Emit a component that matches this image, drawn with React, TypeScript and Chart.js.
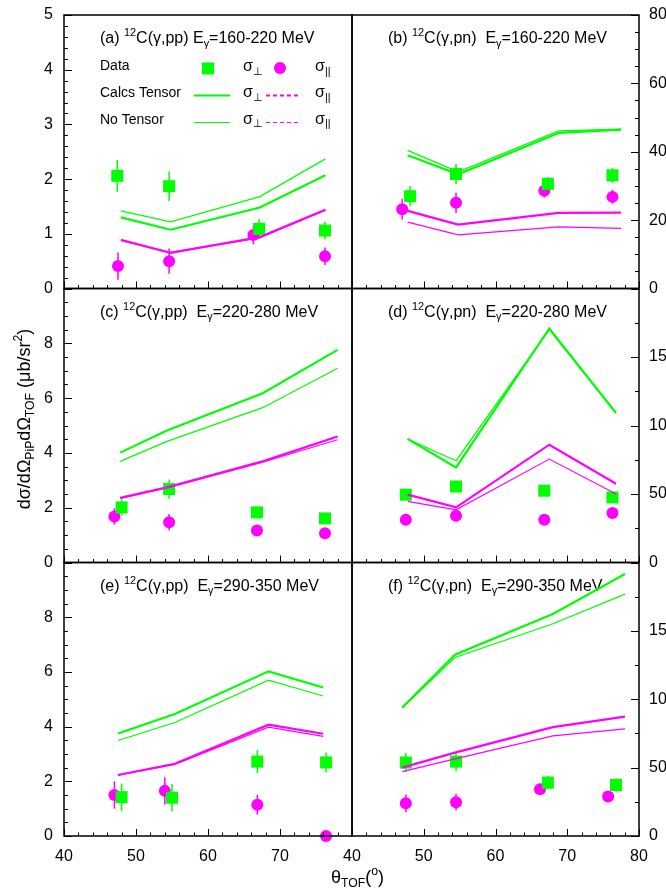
import React, { useEffect, useRef } from 'react';
import { Chart, registerables } from 'chart.js';

Chart.register(...registerables);

const W = 666;
const H = 893;
const GREEN = '#00ff00';
const MAGENTA = '#ff00ff';
const FONT = '"Liberation Sans", Arial, Helvetica, sans-serif';

// ---------- Tick definitions ----------
const xMajorTicks = [40, 50, 60, 70, 80];
const xLabelsLeft = [40, 50, 60, 70];
const xLabelsRight = [40, 50, 60, 70, 80];
const yLabelsA = [0, 1, 2, 3, 4, 5];
const yLabelsB = [0, 20, 40, 60, 80];
const yLabelsPP = [0, 2, 4, 6, 8];
const yLabelsPN = [0, 50, 100, 150];

// ---------- Panel (a) 12C(g,pp) 160-220 ----------
const aPerpX = [47.4, 54.6, 67.1, 76.25];
const aPerpY = [2.06, 1.87, 1.09, 1.06];
const aPerpErr = [0.29, 0.27, 0.18, 0.16];
const aParaX = [47.5, 54.6, 66.3, 76.25];
const aParaY = [0.41, 0.5, 0.98, 0.59];
const aParaErr = [0.25, 0.23, 0.17, 0.16];
const aCalcX = [47.9, 54.8, 67.2, 76.3];
const aTensorPerp = [1.3, 1.075, 1.48, 2.07];
const aTensorPara = [0.89, 0.65, 0.94, 1.44];
const aNoTensorPerp = [1.42, 1.22, 1.68, 2.37];
const aNoTensorPara = [0.88, 0.66, 0.93, 1.43];

// ---------- Panel (b) 12C(g,pn) 160-220 ----------
const bPerpX = [48.1, 54.5, 67.3, 76.3];
const bPerpY = [27.0, 33.5, 30.6, 33.1];
const bPerpErr = [3.0, 3.0, 2.0, 2.2];
const bParaX = [47.0, 54.5, 66.8, 76.3];
const bParaY = [23.2, 25.1, 28.6, 26.8];
const bParaErr = [3.0, 3.0, 2.0, 2.0];
const bCalcX = [47.75, 54.8, 68.8, 77.5];
const bTensorPerp = [39.0, 33.4, 45.5, 46.5];
const bTensorPara = [22.7, 18.7, 22.1, 22.2];
const bNoTensorPerp = [40.4, 34.1, 46.1, 46.6];
const bNoTensorPara = [19.4, 15.7, 18.0, 17.6];

// ---------- Panel (c) 12C(g,pp) 220-280 ----------
const cPerpX = [48.0, 54.6, 66.8, 76.25];
const cPerpY = [2.01, 2.68, 1.83, 1.61];
const cPerpErr = [0.3, 0.35, 0.15, 0.15];
const cParaX = [47.0, 54.6, 66.8, 76.25];
const cParaY = [1.68, 1.47, 1.17, 1.07];
const cParaErr = [0.3, 0.3, 0.15, 0.15];
const cCalcX = [47.8, 54.3, 67.6, 78.0];
const cTensorPerp = [4.01, 4.82, 6.18, 7.76];
const cTensorPara = [2.36, 2.74, 3.69, 4.6];
const cNoTensorPerp = [3.69, 4.42, 5.65, 7.09];
const cNoTensorPara = [2.34, 2.72, 3.66, 4.48];

// ---------- Panel (d) 12C(g,pn) 220-280 ----------
const dPerpX = [47.5, 54.5, 66.8, 76.3];
const dPerpY = [49.5, 55.5, 52.4, 47.5];
const dPerpErr = [3, 3, 3, 3];
const dParaX = [47.5, 54.5, 66.8, 76.3];
const dParaY = [31.2, 34.1, 31.2, 36.1];
const dParaErr = [2, 2, 2, 2];
const dCalcX = [47.75, 54.5, 67.5, 76.8];
const dTensorPerp = [90.2, 69.4, 170.8, 109.2];
const dTensorPara = [49.5, 40.2, 86.0, 57.5];
const dNoTensorPerp = [90.2, 74.3, 170.0, 108.7];
const dNoTensorPara = [44.6, 38.5, 75.5, 50.0];

// ---------- Panel (e) 12C(g,pp) 290-350 ----------
const ePerpX = [48.0, 55.0, 66.85, 76.4];
const ePerpY = [1.42, 1.4, 2.72, 2.69];
const ePerpErr = [0.5, 0.5, 0.42, 0.36];
const eParaX = [47.0, 54.0, 66.85, 76.4];
const eParaY = [1.5, 1.65, 1.14, 0.0];
const eParaErr = [0.5, 0.5, 0.36, 0.0];
const eCalcX = [47.5, 55.4, 68.4, 76.0];
const eTensorPerp = [3.75, 4.46, 6.02, 5.43];
const eTensorPara = [2.23, 2.64, 4.07, 3.74];
const eNoTensorPerp = [3.49, 4.15, 5.7, 5.12];
const eNoTensorPara = [2.22, 2.62, 3.98, 3.64];

// ---------- Panel (f) 12C(g,pn) 290-350 ----------
const fPerpX = [47.5, 54.5, 67.3, 76.8];
const fPerpY = [53.7, 54.4, 39.0, 37.3];
const fPerpErr = [7, 7, 5, 5];
const fParaX = [47.5, 54.5, 66.2, 75.7];
const fParaY = [23.9, 24.7, 34.2, 28.8];
const fParaErr = [6.5, 6, 4, 3.5];
const fCalcX = [47.0, 54.35, 68.0, 78.05];
const fTensorPerp = [93.9, 132.5, 162.3, 191.6];
const fTensorPara = [50.0, 61.0, 79.6, 87.3];
const fNoTensorPerp = [93.5, 130.5, 155.2, 176.9];
const fNoTensorPara = [47.1, 56.4, 73.2, 78.3];

type Part = { t: string; k?: 'sup' | 'sub' };

const titleA: Part[] = [{ t: '(a) ' }, { t: '12', k: 'sup' }, { t: 'C(γ,pp) E' }, { t: 'γ', k: 'sub' }, { t: '=160-220 MeV' }];
const titleB: Part[] = [{ t: '(b) ' }, { t: '12', k: 'sup' }, { t: 'C(γ,pn)  E' }, { t: 'γ', k: 'sub' }, { t: '=160-220 MeV' }];
const titleC: Part[] = [{ t: '(c) ' }, { t: '12', k: 'sup' }, { t: 'C(γ,pp)  E' }, { t: 'γ', k: 'sub' }, { t: '=220-280 MeV' }];
const titleD: Part[] = [{ t: '(d) ' }, { t: '12', k: 'sup' }, { t: 'C(γ,pn)  E' }, { t: 'γ', k: 'sub' }, { t: '=220-280 MeV' }];
const titleE: Part[] = [{ t: '(e) ' }, { t: '12', k: 'sup' }, { t: 'C(γ,pp)  E' }, { t: 'γ', k: 'sub' }, { t: '=290-350 MeV' }];
const titleF: Part[] = [{ t: '(f) ' }, { t: '12', k: 'sup' }, { t: 'C(γ,pn)  E' }, { t: 'γ', k: 'sub' }, { t: '=290-350 MeV' }];

const yTitle: Part[] = [
  { t: 'dσ/dΩ' }, { t: 'PiP', k: 'sub' }, { t: 'dΩ' }, { t: 'TOF', k: 'sub' }, { t: ' (μb/sr' }, { t: '2', k: 'sup' }, { t: ')' },
];
const xTitle: Part[] = [{ t: 'θ' }, { t: 'TOF', k: 'sub' }, { t: '(' }, { t: 'o', k: 'sup' }, { t: ')' }];

const colX = [
  [64, 352],
  [352, 639],
];
const rowY = [
  [15, 288.5],
  [288.5, 562.5],
  [562.5, 836],
];

interface Panel {
  col: number;
  row: number;
  yMax: number;
  yMajor: number;
  yMinor: number;
  yLabels: number[];
  xLabels: number[];
  title: Part[];
  perpX: number[]; perpY: number[]; perpErr: number[];
  paraX: number[]; paraY: number[]; paraErr: number[];
  calcX: number[];
  tPerp: number[]; tPara: number[]; nPerp: number[]; nPara: number[];
  legend?: boolean;
  axisTitles?: boolean;
}

const panels: Panel[] = [
  { col: 0, row: 0, yMax: 5, yMajor: 1, yMinor: 0.2, yLabels: yLabelsA, xLabels: xLabelsLeft, title: titleA,
    perpX: aPerpX, perpY: aPerpY, perpErr: aPerpErr, paraX: aParaX, paraY: aParaY, paraErr: aParaErr,
    calcX: aCalcX, tPerp: aTensorPerp, tPara: aTensorPara, nPerp: aNoTensorPerp, nPara: aNoTensorPara, legend: true, axisTitles: true },
  { col: 1, row: 0, yMax: 80, yMajor: 20, yMinor: 5, yLabels: yLabelsB, xLabels: xLabelsRight, title: titleB,
    perpX: bPerpX, perpY: bPerpY, perpErr: bPerpErr, paraX: bParaX, paraY: bParaY, paraErr: bParaErr,
    calcX: bCalcX, tPerp: bTensorPerp, tPara: bTensorPara, nPerp: bNoTensorPerp, nPara: bNoTensorPara },
  { col: 0, row: 1, yMax: 10, yMajor: 2, yMinor: 0.5, yLabels: yLabelsPP, xLabels: xLabelsLeft, title: titleC,
    perpX: cPerpX, perpY: cPerpY, perpErr: cPerpErr, paraX: cParaX, paraY: cParaY, paraErr: cParaErr,
    calcX: cCalcX, tPerp: cTensorPerp, tPara: cTensorPara, nPerp: cNoTensorPerp, nPara: cNoTensorPara },
  { col: 1, row: 1, yMax: 200, yMajor: 50, yMinor: 25, yLabels: yLabelsPN, xLabels: xLabelsRight, title: titleD,
    perpX: dPerpX, perpY: dPerpY, perpErr: dPerpErr, paraX: dParaX, paraY: dParaY, paraErr: dParaErr,
    calcX: dCalcX, tPerp: dTensorPerp, tPara: dTensorPara, nPerp: dNoTensorPerp, nPara: dNoTensorPara },
  { col: 0, row: 2, yMax: 10, yMajor: 2, yMinor: 0.5, yLabels: yLabelsPP, xLabels: xLabelsLeft, title: titleE,
    perpX: ePerpX, perpY: ePerpY, perpErr: ePerpErr, paraX: eParaX, paraY: eParaY, paraErr: eParaErr,
    calcX: eCalcX, tPerp: eTensorPerp, tPara: eTensorPara, nPerp: eNoTensorPerp, nPara: eNoTensorPara },
  { col: 1, row: 2, yMax: 200, yMajor: 50, yMinor: 25, yLabels: yLabelsPN, xLabels: xLabelsRight, title: titleF,
    perpX: fPerpX, perpY: fPerpY, perpErr: fPerpErr, paraX: fParaX, paraY: fParaY, paraErr: fParaErr,
    calcX: fCalcX, tPerp: fTensorPerp, tPara: fTensorPara, nPerp: fNoTensorPerp, nPara: fNoTensorPara },
];

function partFont(p: Part, size: number) {
  const s = p.k ? size * 0.68 : size;
  return `${s}px ${FONT}`;
}

function richWidth(ctx: CanvasRenderingContext2D, parts: Part[], size: number) {
  let w = 0;
  for (const p of parts) {
    ctx.font = partFont(p, size);
    w += ctx.measureText(p.t).width;
  }
  return w;
}

function drawRich(ctx: CanvasRenderingContext2D, x: number, y: number, parts: Part[], size: number) {
  ctx.textAlign = 'left';
  ctx.textBaseline = 'alphabetic';
  let cx = x;
  for (const p of parts) {
    ctx.font = partFont(p, size);
    const dy = p.k === 'sup' ? -size * 0.42 : p.k === 'sub' ? size * 0.24 : 0;
    ctx.fillText(p.t, cx, y + dy);
    cx += ctx.measureText(p.t).width;
  }
}

function range(min: number, max: number, step: number) {
  const out: number[] = [];
  const n = Math.round((max - min) / step);
  for (let i = 0; i <= n; i++) out.push(min + i * step);
  return out;
}

function makePlugin(p: Panel) {
  return {
    id: 'panelDeco',
    beforeDatasetsDraw(chart: any) {
      const ctx: CanvasRenderingContext2D = chart.ctx;
      const xs = chart.scales.x;
      const ys = chart.scales.y;
      const area = chart.chartArea;
      ctx.save();
      ctx.fillStyle = '#000';
      drawRich(ctx, area.left + 36, area.top + 28, p.title, 16);

      // error bars
      const drawErr = (xv: number[], yv: number[], ev: number[], color: string) => {
        ctx.strokeStyle = color;
        ctx.lineWidth = 1.5;
        for (let i = 0; i < xv.length; i++) {
          if (!ev[i]) continue;
          const px = xs.getPixelForValue(xv[i]);
          ctx.beginPath();
          ctx.moveTo(px, ys.getPixelForValue(yv[i] - ev[i]));
          ctx.lineTo(px, ys.getPixelForValue(yv[i] + ev[i]));
          ctx.stroke();
        }
      };
      drawErr(p.perpX, p.perpY, p.perpErr, GREEN);
      drawErr(p.paraX, p.paraY, p.paraErr, MAGENTA);

      if (p.legend) {
        ctx.fillStyle = '#000';
        ctx.font = `14px ${FONT}`;
        ctx.textAlign = 'left';
        ctx.textBaseline = 'alphabetic';
        ctx.fillText('Data', 100, 70);
        ctx.fillText('Calcs Tensor', 100, 97);
        ctx.fillText('No Tensor', 100, 124);
        const perpSym: Part[] = [{ t: 'σ' }, { t: '⊥', k: 'sub' }];
        const paraSym: Part[] = [{ t: 'σ' }, { t: '||', k: 'sub' }];
        const rowsY = [71, 97, 123.5];
        for (const ry of rowsY) {
          ctx.fillStyle = '#000';
          drawRich(ctx, 243, ry, perpSym, 16);
          drawRich(ctx, 315, ry, paraSym, 16);
        }
        // markers
        ctx.fillStyle = GREEN;
        ctx.fillRect(202, 62.5, 12, 12);
        ctx.fillStyle = MAGENTA;
        ctx.beginPath();
        ctx.arc(280, 68, 6, 0, Math.PI * 2);
        ctx.fill();
        // lines
        const seg = (x1: number, x2: number, y: number, color: string, w: number, dash: number[]) => {
          ctx.strokeStyle = color;
          ctx.lineWidth = w;
          ctx.setLineDash(dash);
          ctx.beginPath();
          ctx.moveTo(x1, y);
          ctx.lineTo(x2, y);
          ctx.stroke();
          ctx.setLineDash([]);
        };
        seg(194, 230, 95.5, GREEN, 2.2, []);
        seg(266, 301, 95.5, MAGENTA, 2.2, [4, 3]);
        seg(194, 230, 122.5, GREEN, 1.2, []);
        seg(266, 301, 122.5, MAGENTA, 1.2, [4, 3]);
      }
      ctx.restore();
    },
    afterDatasetsDraw(chart: any) {
      const ctx: CanvasRenderingContext2D = chart.ctx;
      const xs = chart.scales.x;
      const ys = chart.scales.y;
      const a = chart.chartArea;
      ctx.save();
      ctx.strokeStyle = '#000';
      ctx.lineWidth = 1;
      // x ticks (inside, bottom)
      ctx.beginPath();
      for (const v of range(40, 80, 2)) {
        const px = Math.round(xs.getPixelForValue(v)) + 0.5;
        const len = xMajorTicks.includes(v) ? 7 : 3.5;
        ctx.moveTo(px, a.bottom);
        ctx.lineTo(px, a.bottom - len);
      }
      // y ticks
      const left = p.col === 0;
      const ex = left ? a.left : a.right;
      const dir = left ? 1 : -1;
      for (const v of range(0, p.yMax, p.yMinor)) {
        const py = Math.round(ys.getPixelForValue(v)) + 0.5;
        const isMajor = Math.abs(v / p.yMajor - Math.round(v / p.yMajor)) < 1e-6;
        const len = isMajor ? 8 : 4;
        ctx.moveTo(ex, py);
        ctx.lineTo(ex + dir * len, py);
      }
      ctx.stroke();

      // frame
      ctx.lineWidth = 1.5;
      ctx.strokeRect(a.left, a.top, a.right - a.left, a.bottom - a.top);

      // labels
      ctx.fillStyle = '#000';
      ctx.font = `16px ${FONT}`;
      ctx.textAlign = 'center';
      ctx.textBaseline = 'alphabetic';
      if (p.row === 2) {
        for (const v of p.xLabels) {
          ctx.fillText(String(v), xs.getPixelForValue(v), 861);
        }
      }
      ctx.textBaseline = 'middle';
      ctx.textAlign = left ? 'right' : 'left';
      for (const v of p.yLabels) {
        const py = ys.getPixelForValue(v);
        ctx.fillText(String(v), left ? a.left - 11 : a.right + 10, py);
      }

      if (p.axisTitles) {
        // y title
        const size = 18;
        const w = richWidth(ctx, yTitle, size);
        ctx.save();
        ctx.translate(30, 419);
        ctx.rotate(-Math.PI / 2);
        ctx.fillStyle = '#000';
        drawRich(ctx, -w / 2, 0, yTitle, size);
        ctx.restore();
        // x title
        ctx.fillStyle = '#000';
        drawRich(ctx, 331, 883, xTitle, 18);
      }
      ctx.restore();
    },
  };
}

const toPts = (xs: number[], ys: number[]) => xs.map((x, i) => ({ x, y: ys[i] }));

function PanelChart({ p }: { p: Panel }) {
  const ref = useRef<HTMLCanvasElement | null>(null);
  useEffect(() => {
    if (!ref.current) return;
    const [l, r] = colX[p.col];
    const [t, b] = rowY[p.row];
    const chart = new Chart(ref.current, {
      type: 'scatter',
      data: {
        datasets: [
          { data: toPts(p.calcX, p.tPara), showLine: true, borderColor: MAGENTA, borderWidth: 2.2, pointRadius: 0, tension: 0 } as any,
          { data: toPts(p.calcX, p.nPara), showLine: true, borderColor: MAGENTA, borderWidth: 1.2, pointRadius: 0, tension: 0 } as any,
          { data: toPts(p.calcX, p.tPerp), showLine: true, borderColor: GREEN, borderWidth: 2.2, pointRadius: 0, tension: 0 } as any,
          { data: toPts(p.calcX, p.nPerp), showLine: true, borderColor: GREEN, borderWidth: 1.2, pointRadius: 0, tension: 0 } as any,
          { data: toPts(p.perpX, p.perpY), showLine: false, pointStyle: 'rect', pointRadius: 8.5, backgroundColor: GREEN, borderWidth: 0, clip: false } as any,
          { data: toPts(p.paraX, p.paraY), showLine: false, pointStyle: 'circle', pointRadius: 6, backgroundColor: MAGENTA, borderWidth: 0, clip: false } as any,
        ],
      },
      options: {
        responsive: false,
        animation: false,
        devicePixelRatio: 1,
        events: [],
        layout: { padding: { left: l, right: W - r, top: t, bottom: H - b } },
        plugins: { legend: { display: false }, title: { display: false }, tooltip: { enabled: false } },
        scales: {
          x: { type: 'linear', min: 40, max: 80, display: false },
          y: { type: 'linear', min: 0, max: p.yMax, display: false },
        },
      },
      plugins: [makePlugin(p)],
    } as any);
    return () => chart.destroy();
  }, [p]);
  return (
    <canvas
      ref={ref}
      width={W}
      height={H}
      style={{ position: 'absolute', left: 0, top: 0, width: W, height: H }}
    />
  );
}

export default function App() {
  return (
    <div style={{ position: 'absolute', left: 0, top: 0, width: W, height: H, background: '#fff', overflow: 'hidden' }}>
      {panels.map((p, i) => (
        <PanelChart key={i} p={p} />
      ))}
    </div>
  );
}
